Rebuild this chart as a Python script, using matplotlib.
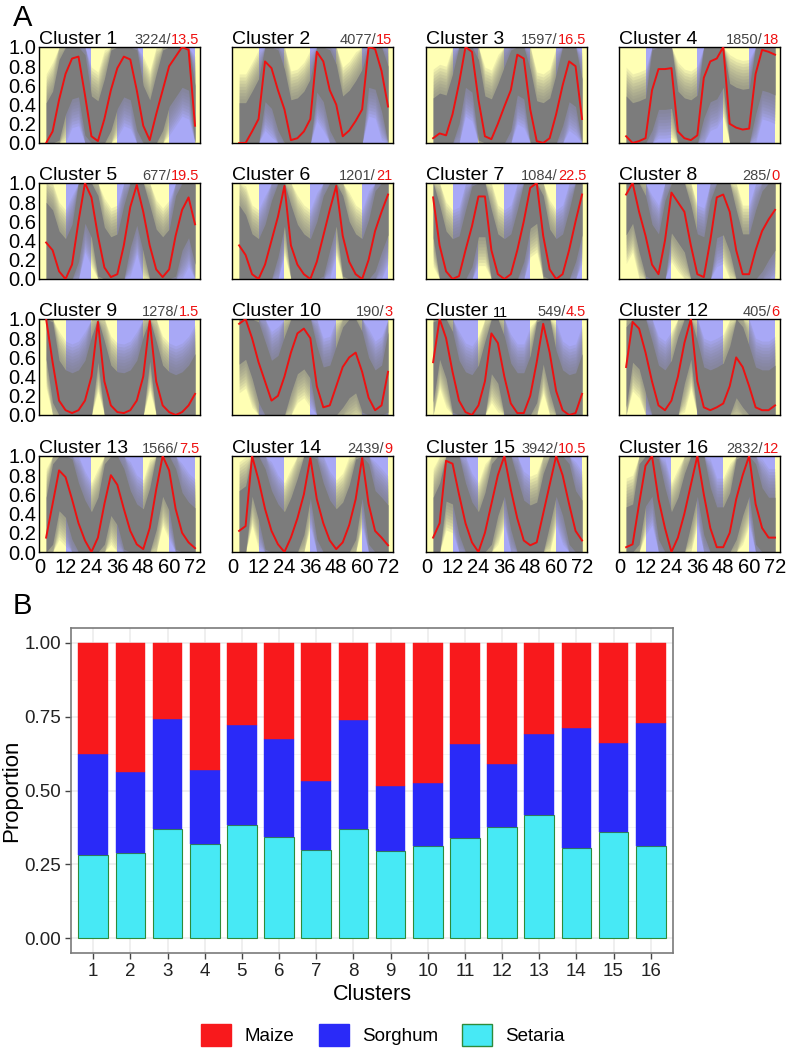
import numpy as np
import matplotlib.pyplot as plt
from matplotlib.patches import Patch

plt.rcParams['font.family'] = ['Liberation Sans', 'DejaVu Sans']

## Panel A data: mean expression profiles (sampled every 3 h)
times = [3, 6, 9, 12, 15, 18, 21, 24, 27, 30, 33, 36, 39, 42, 45, 48, 51, 54, 57, 60, 63, 66, 69, 72]
dark_periods = [(12, 24), (36, 48), (60, 72)]
cluster_counts = [3224, 4077, 1597, 1850, 677, 1201, 1084, 285, 1278, 190, 549, 405, 1566, 2439, 3942, 2832]
cluster_phases = ['13.5', '15', '16.5', '18', '19.5', '21', '22.5', '0', '1.5', '3', '4.5', '6', '7.5', '9', '10.5', '12']

profile_c01 = [0.0, 0.12, 0.45, 0.72, 0.88, 0.90, 0.50, 0.07, 0.02, 0.25, 0.55, 0.78, 0.90, 0.87, 0.55, 0.18, 0.03, 0.30, 0.55, 0.80, 0.90, 1.0, 0.97, 0.18]
profile_c02 = [0.0, 0.0, 0.12, 0.25, 0.85, 0.78, 0.55, 0.35, 0.03, 0.05, 0.12, 0.25, 0.95, 0.85, 0.55, 0.40, 0.07, 0.13, 0.23, 0.35, 1.0, 0.98, 0.75, 0.38]
profile_c03 = [0.05, 0.10, 0.08, 0.30, 0.62, 1.0, 0.95, 0.45, 0.07, 0.04, 0.20, 0.38, 0.55, 0.92, 0.88, 0.35, 0.02, 0.0, 0.05, 0.30, 0.60, 0.85, 0.80, 0.25]
profile_c04 = [0.07, 0.0, 0.02, 0.05, 0.55, 0.77, 0.77, 0.78, 0.12, 0.05, 0.03, 0.08, 0.68, 0.85, 0.88, 1.0, 0.20, 0.16, 0.14, 0.15, 0.72, 0.97, 0.95, 0.92]
profile_c05 = [0.38, 0.30, 0.08, 0.0, 0.15, 0.60, 1.0, 0.85, 0.45, 0.12, 0.02, 0.05, 0.35, 0.75, 0.98, 0.70, 0.35, 0.10, 0.02, 0.10, 0.45, 0.72, 0.85, 0.57]
profile_c06 = [0.35, 0.25, 0.05, 0.0, 0.15, 0.40, 0.65, 0.97, 0.35, 0.15, 0.05, 0.0, 0.18, 0.45, 0.72, 0.97, 0.45, 0.18, 0.05, 0.0, 0.20, 0.50, 0.70, 0.88]
profile_c07 = [0.85, 0.35, 0.08, 0.0, 0.03, 0.30, 0.55, 0.86, 0.86, 0.30, 0.05, 0.0, 0.05, 0.30, 0.60, 0.95, 1.0, 0.45, 0.10, 0.0, 0.05, 0.30, 0.60, 0.88]
profile_c08 = [0.88, 1.0, 0.70, 0.45, 0.15, 0.05, 0.40, 0.90, 0.80, 0.70, 0.35, 0.05, 0.02, 0.40, 0.85, 0.88, 0.70, 0.30, 0.05, 0.05, 0.30, 0.50, 0.62, 0.72]
profile_c09 = [1.0, 0.55, 0.15, 0.05, 0.02, 0.05, 0.15, 0.40, 0.97, 0.35, 0.10, 0.03, 0.02, 0.05, 0.15, 0.40, 0.98, 0.35, 0.10, 0.03, 0.0, 0.03, 0.10, 0.22]
profile_c10 = [0.95, 1.0, 0.80, 0.55, 0.35, 0.15, 0.20, 0.40, 0.65, 0.85, 0.90, 0.80, 0.30, 0.08, 0.10, 0.30, 0.50, 0.60, 0.65, 0.45, 0.18, 0.05, 0.10, 0.45]
profile_c11 = [0.55, 1.0, 0.80, 0.45, 0.15, 0.03, 0.0, 0.10, 0.35, 0.85, 0.75, 0.40, 0.12, 0.02, 0.02, 0.20, 0.55, 0.95, 0.65, 0.25, 0.05, 0.0, 0.02, 0.22]
profile_c12 = [0.50, 0.97, 0.90, 0.65, 0.35, 0.10, 0.05, 0.15, 0.40, 0.75, 1.0, 0.35, 0.08, 0.05, 0.08, 0.12, 0.30, 0.60, 0.50, 0.30, 0.08, 0.05, 0.05, 0.10]
profile_c13 = [0.15, 0.50, 0.85, 0.78, 0.55, 0.30, 0.12, 0.0, 0.15, 0.50, 0.80, 0.70, 0.45, 0.22, 0.08, 0.03, 0.25, 0.65, 1.0, 0.85, 0.45, 0.20, 0.10, 0.04]
profile_c14 = [0.22, 0.27, 1.0, 0.75, 0.45, 0.22, 0.08, 0.0, 0.15, 0.35, 0.60, 0.98, 0.55, 0.30, 0.12, 0.03, 0.10, 0.28, 0.55, 0.98, 0.50, 0.22, 0.15, 0.07]
profile_c15 = [0.15, 0.30, 0.95, 0.92, 0.60, 0.30, 0.10, 0.0, 0.20, 0.50, 0.80, 1.0, 0.65, 0.35, 0.12, 0.07, 0.10, 0.40, 0.70, 1.0, 0.80, 0.50, 0.22, 0.12]
profile_c16 = [0.05, 0.08, 0.50, 0.90, 1.0, 0.55, 0.25, 0.0, 0.15, 0.40, 0.70, 1.0, 0.60, 0.25, 0.05, 0.05, 0.20, 0.55, 0.80, 1.0, 0.50, 0.25, 0.15, 0.15]

profiles = [profile_c01, profile_c02, profile_c03, profile_c04, profile_c05, profile_c06, profile_c07, profile_c08,
            profile_c09, profile_c10, profile_c11, profile_c12, profile_c13, profile_c14, profile_c15, profile_c16]

## Panel B data: species proportion per cluster
clusters = list(range(1, 17))
setaria = [0.283, 0.288, 0.369, 0.318, 0.383, 0.344, 0.300, 0.369, 0.295, 0.311, 0.339, 0.378, 0.417, 0.307, 0.358, 0.313]
sorghum = [0.339, 0.273, 0.374, 0.250, 0.340, 0.329, 0.233, 0.368, 0.220, 0.216, 0.317, 0.213, 0.274, 0.403, 0.303, 0.416]
maize = [0.378, 0.439, 0.257, 0.432, 0.277, 0.327, 0.467, 0.263, 0.485, 0.473, 0.344, 0.409, 0.309, 0.290, 0.339, 0.271]

W, H = 787, 1053
fig = plt.figure(figsize=(W / 100, H / 100), dpi=100)

def px_axes(left, top, width, height):
    return fig.add_axes([left / W, 1 - (top + height) / H, width / W, height / H])

### Panel A
col_left = [39, 232, 426, 619]
row_top = [47, 183, 319, 456]
yellow = '#FFFFB4'
blue = '#A8A8F6'
# soft edge of the trace cloud, then a solid core
fuzz = np.linspace(0.72, 0.46, 9)

for i in range(16):
    r_, c_ = divmod(i, 4)
    ax = px_axes(col_left[c_], row_top[r_], 161, 96)
    ax.set_facecolor(yellow)
    for d0, d1 in dark_periods:
        ax.axvspan(d0, d1, color=blue, lw=0, zorder=0)
    m = np.array(profiles[i])
    for s in fuzz:
        ax.fill_between(times, np.clip(m - s, 0, 1), np.clip(m + s, 0, 1),
                        color='#7a7a7a', alpha=0.12, lw=0, zorder=1)
    ax.fill_between(times, np.clip(m - 0.42, 0, 1), np.clip(m + 0.42, 0, 1),
                    color='#7c7c7c', lw=0, zorder=1)
    ax.plot(times, m, color='#EE1111', lw=1.4, zorder=3)
    ax.set_xlim(-0.3, 74.3)
    ax.set_ylim(0, 1)
    for sp in ax.spines.values():
        sp.set_linewidth(1.0)
        sp.set_color('black')
    ax.set_xticks([0, 12, 24, 36, 48, 60, 72])
    ax.set_yticks([0, 0.2, 0.4, 0.6, 0.8, 1.0])
    ax.tick_params(length=0, pad=2, labelsize=14.5)
    if c_ != 0:
        ax.set_yticklabels([])
    else:
        ax.set_yticklabels(['0.0', '0.2', '0.4', '0.6', '0.8', '1.0'])
    if r_ != 3:
        ax.set_xticklabels([])
    else:
        ax.tick_params(axis='x', pad=4)

    if i + 1 == 11:
        t = ax.text(0, 1.03, 'Cluster ', transform=ax.transAxes, fontsize=14, ha='left', va='baseline')
        ax.annotate('11', xy=(1, 0), xycoords=t, fontsize=10.5, ha='left', va='bottom')
    else:
        ax.text(0, 1.03, 'Cluster %d' % (i + 1), transform=ax.transAxes, fontsize=14, ha='left', va='baseline')
    ph = ax.text(0.995, 1.03, cluster_phases[i], transform=ax.transAxes, fontsize=10.5,
                 color='#EE1111', ha='right', va='baseline')
    ax.annotate('%d/' % cluster_counts[i], xy=(0, 0), xycoords=ph, fontsize=10.5,
                color='#444444', ha='right', va='bottom')

fig.text(13 / W, 1 - 18 / H, 'A', fontsize=21, ha='left', va='center')
fig.text(13 / W, 1 - 606 / H, 'B', fontsize=21, ha='left', va='center')

### Panel B
axb = px_axes(71, 628, 602, 325)
x = np.array(clusters)
set_ = np.array(setaria)
sor_ = np.array(sorghum)
mai_ = np.array(maize)
c_maize, c_sorghum, c_setaria = '#F8191C', '#2A2AF8', '#47E9F5'
axb.bar(x, set_, 0.8, color=c_setaria, edgecolor='#2E8B3A', lw=0.8, zorder=2)
axb.bar(x, sor_, 0.8, bottom=set_, color=c_sorghum, edgecolor=c_sorghum, lw=0.3, zorder=2)
axb.bar(x, mai_, 0.8, bottom=set_ + sor_, color=c_maize, edgecolor=c_maize, lw=0.3, zorder=2)
axb.set_xlim(0.4, 16.6)
axb.set_ylim(-0.05, 1.05)
axb.set_xticks(x)
axb.set_xticklabels([str(k) for k in clusters])
axb.set_yticks([0, 0.25, 0.5, 0.75, 1.0])
axb.set_yticklabels(['0.00', '0.25', '0.50', '0.75', '1.00'])
axb.set_yticks([0.125, 0.375, 0.625, 0.875], minor=True)
axb.set_axisbelow(True)
axb.grid(which='major', color='#EBEBEB', lw=1.1)
axb.grid(which='minor', axis='y', color='#F4F4F4', lw=0.6)
axb.tick_params(which='major', length=4, width=1, color='#444444', labelsize=13.5,
                labelcolor='#222222', pad=3)
axb.tick_params(which='minor', length=0)
for sp in axb.spines.values():
    sp.set_color('#7a7a7a')
    sp.set_linewidth(1.2)
axb.set_xlabel('Clusters', fontsize=15.5, labelpad=3)
axb.set_ylabel('Proportion', fontsize=16, labelpad=2)

handles = [Patch(facecolor=c_maize, edgecolor=c_maize),
           Patch(facecolor=c_sorghum, edgecolor=c_sorghum),
           Patch(facecolor=c_setaria, edgecolor='#2E8B3A')]
fig.legend(handles, ['Maize', 'Sorghum', 'Setaria'], loc='center', ncol=3, frameon=False,
           bbox_to_anchor=(383 / W, 1 - 1035 / H), fontsize=13.5, handlelength=1.6,
           handleheight=1.4, columnspacing=1.3, handletextpad=0.7)

fig.savefig('out.png', dpi=100)
